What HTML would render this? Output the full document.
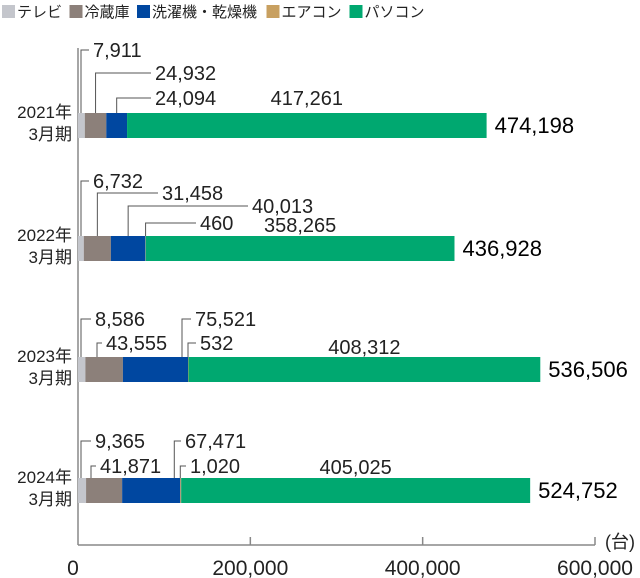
<!DOCTYPE html>
<html><head><meta charset="utf-8"><style>
body{margin:0;background:#fff;}
svg{display:block;font-family:"Liberation Sans","Noto Sans CJK JP",sans-serif;}
</style></head><body>
<svg id="chart" width="640" height="578"></svg>
<script>
const categories=["2021年|3月期","2022年|3月期","2023年|3月期","2024年|3月期"];
const seriesNames=["テレビ","冷蔵庫","洗濯機・乾燥機","エアコン","パソコン"];
const tv=[7911,6732,8586,9365];
const fridge=[24932,31458,43555,41871];
const washer=[24094,40013,75521,67471];
const aircon=[0,460,532,1020];
const pc=[417261,358265,408312,405025];
const totals=[474198,436928,536506,524752];
const xTicks=[0,200000,400000,600000];
const xTickLabels=["0","200,000","400,000","600,000"];
const colors=["#c4c6cc","#8c807a","#0047a0","#c8a060","#00a870"];
const series=[tv,fridge,washer,aircon,pc];
const NS="http://www.w3.org/2000/svg";
const svg=document.getElementById('chart');
const x0=78,x1=595,xMax=600000;
const xs=v=>x0+(x1-x0)*v/xMax;
const barTop=[113,236,357,478],barH=25;
const fmt=v=>v.toLocaleString('en-US');
function mk(tag,attrs,parent){const e=document.createElementNS(NS,tag);for(const k in attrs)e.setAttribute(k,attrs[k]);(parent||svg).appendChild(e);return e;}
let lx=2;
seriesNames.forEach((n,i)=>{
  const g=mk('g',{});
  
  
  mk('rect',{x:lx,y:5,width:13,height:13,fill:colors[i]},g);
  const t=mk('text',{x:lx+15,y:17,'font-size':15,fill:'#222'},g);t.textContent=n;
  lx+=15+n.length*15.5+6;
});
const ax=mk('line',{x1:x0,y1:48,x2:x0,y2:545,stroke:'#888','stroke-width':1.5});

const bx=mk('line',{x1:x0,y1:545,x2:x1,y2:545,stroke:'#888','stroke-width':1.5});

xTicks.forEach((t,i)=>{
  if(i>0)mk('line',{x1:xs(t),y1:537,x2:xs(t),y2:545,stroke:'#888','stroke-width':1.5});
  const tl=mk('text',{x:i==0?x0-5:xs(t),y:575,'font-size':21,'text-anchor':'middle',fill:'#222'});
  
  tl.textContent=xTickLabels[i];
});
const unit=mk('text',{x:605,y:548,'font-size':18,fill:'#222'});unit.textContent='(台)';

// layout: [labelY, textX, leaderMode] leaderMode: 'r' = near segment right edge
const layout=[
 [[50,93],[73,155],[98,155],null,[98,'c']],
 [[181,93],[193,162],[206,252],[223,200],[225,'c']],
 [[319,95],[343,106],[319,195,'r'],[343,200,'r'],[347,'c']],
 [[441,95],[466,100],[441,185,'r'],[466,190,'r'],[467,'c']]
];
categories.forEach((c,ci)=>{
  const top=barTop[ci];
  const [a,b]=c.split('|');
  const t1=mk('text',{x:72,y:top+5,'font-size':17,'text-anchor':'end',fill:'#222'});t1.textContent=a;
  
  const t2=mk('text',{x:72,y:top+27,'font-size':17,'text-anchor':'end',fill:'#222'});t2.textContent=b;
  let acc=0;
  series.forEach((s,si)=>{
    const v=s[ci];const xa=xs(acc),xb=xs(acc+v);acc+=v;
    const r=mk('rect',{x:xa,y:top,width:Math.max(0,xb-xa),height:barH,fill:colors[si]});
    
    
    const L=layout[ci][si];if(!L||v<=0)return;
    const mid=(xa+xb)/2;
    if(L[1]==='c'){
      const lt=mk('text',{x:mid,y:L[0]+7,'font-size':20,'text-anchor':'middle',fill:'#222'});lt.textContent=fmt(v);
      
    }else{
      const tx=L[1];
      let lx2;
      if(si==0)lx2=xa+3;
      else if(L[2]==='r')lx2=Math.min(Math.max(xa,xb-6),tx-8);
      else lx2=Math.min(mid,tx-9);
      mk('polyline',{points:`${lx2},${top} ${lx2},${L[0]} ${tx-4},${L[0]}`,fill:'none',stroke:'#555','stroke-width':1});
      const lt=mk('text',{x:tx,y:L[0]+7,'font-size':20,fill:'#222'});lt.textContent=fmt(v);
      
    }
  });
  const tt=mk('text',{x:xs(totals[ci])+8,y:top+20,'font-size':22,fill:'#000'});tt.textContent=fmt(totals[ci]);
  
});
</script>
</body></html>
